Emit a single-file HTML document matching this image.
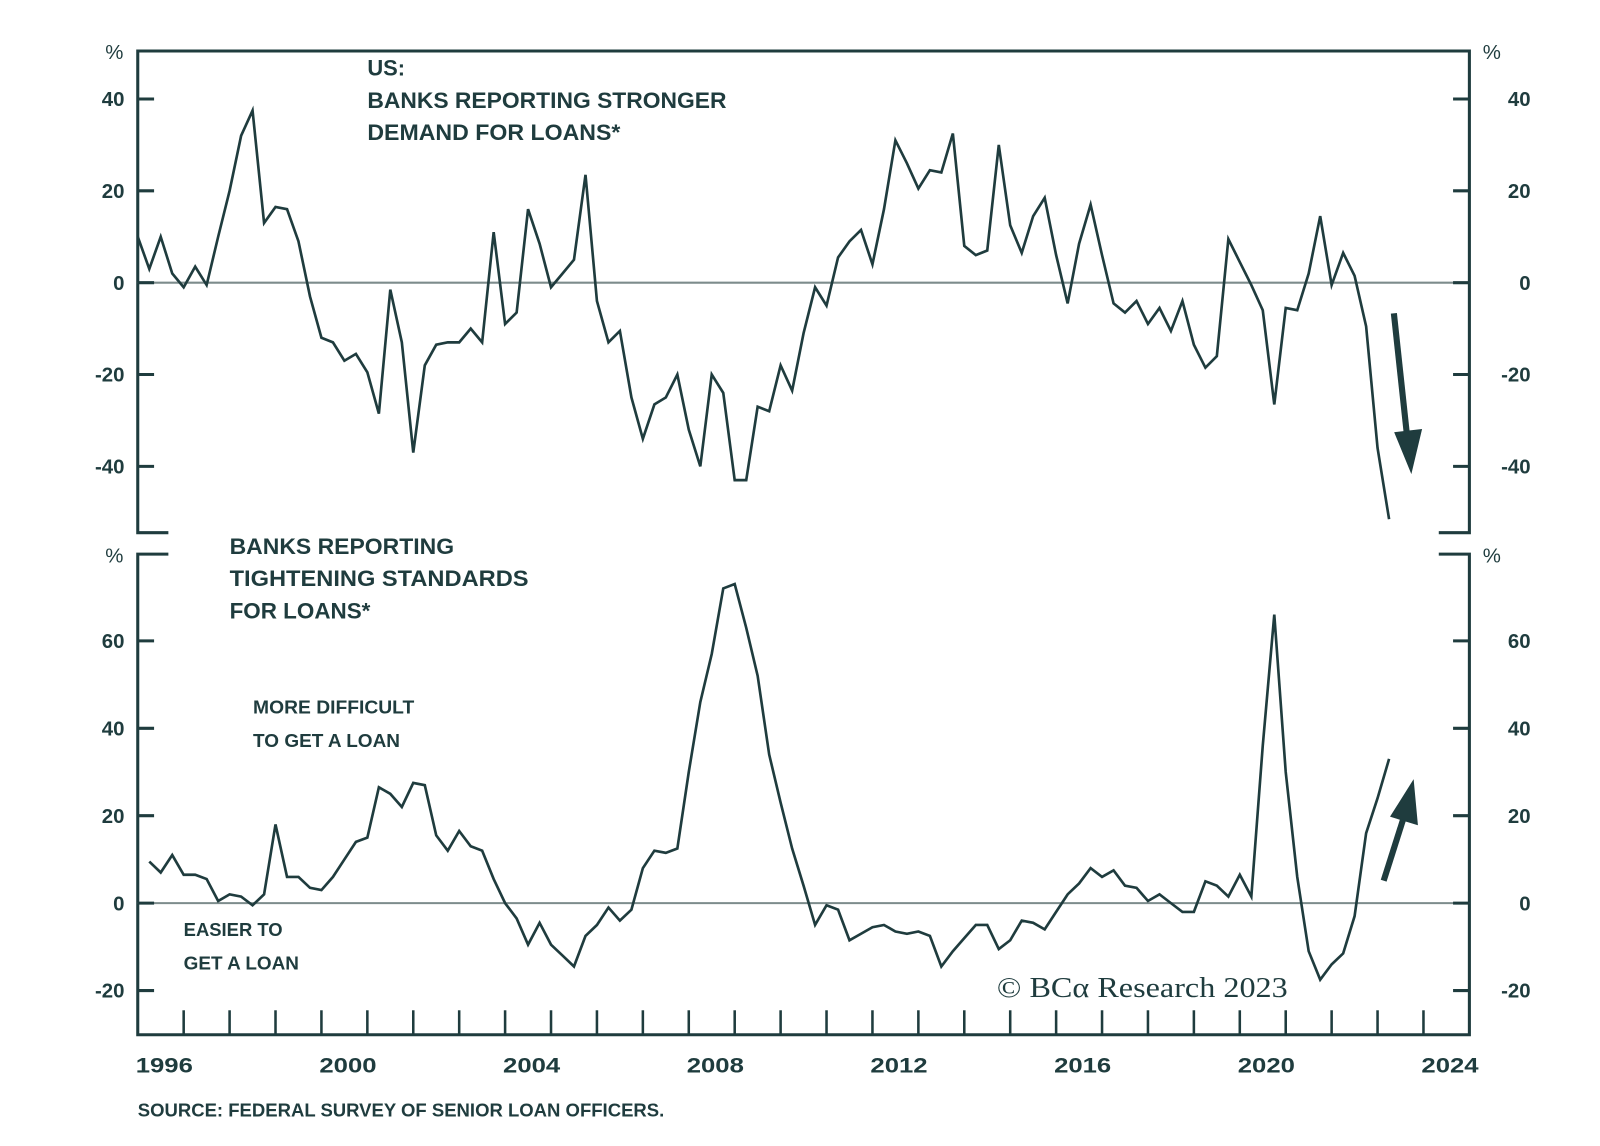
<!DOCTYPE html>
<html><head><meta charset="utf-8">
<style>
html,body{margin:0;padding:0;background:#fff;}
svg{display:block;}
text{font-family:"Liberation Sans",sans-serif;fill:#1f3c3e;font-weight:bold;}
</style></head>
<body>
<svg id="chart" width="1600" height="1146" viewBox="0 0 1568 1123" preserveAspectRatio="none" xmlns="http://www.w3.org/2000/svg">
<g id="frame" stroke="#1f3c3e" stroke-width="3" fill="none">
  <path d="M165,522 H135 V50 H1440 V522 H1410"/>
  <path d="M165,543 H135 V1014 H1440 V543 H1410"/>
</g>
<g id="axes"></g>
<g id="series"></g>
<g>
  <text x="360" y="74" font-size="22" textLength="37" lengthAdjust="spacingAndGlyphs">US:</text>
  <text x="360" y="106" font-size="22" textLength="352" lengthAdjust="spacingAndGlyphs">BANKS REPORTING STRONGER</text>
  <text x="360" y="137" font-size="22" textLength="248" lengthAdjust="spacingAndGlyphs">DEMAND FOR LOANS*</text>
  <text x="225" y="543" font-size="22" textLength="220" lengthAdjust="spacingAndGlyphs">BANKS REPORTING</text>
  <text x="225" y="574" font-size="22" textLength="293" lengthAdjust="spacingAndGlyphs">TIGHTENING STANDARDS</text>
  <text x="225" y="606" font-size="22" textLength="138" lengthAdjust="spacingAndGlyphs">FOR LOANS*</text>
  <text x="248" y="699" font-size="18" textLength="158" lengthAdjust="spacingAndGlyphs">MORE DIFFICULT</text>
  <text x="248" y="732" font-size="18" textLength="144" lengthAdjust="spacingAndGlyphs">TO GET A LOAN</text>
  <text x="180" y="917" font-size="18" textLength="97" lengthAdjust="spacingAndGlyphs">EASIER TO</text>
  <text x="180" y="950" font-size="18" textLength="113" lengthAdjust="spacingAndGlyphs">GET A LOAN</text>
  <text x="977" y="977" font-size="28" textLength="285" lengthAdjust="spacingAndGlyphs" style="font-family:'Liberation Serif',serif;font-weight:normal">© BCα Research 2023</text>
  <text x="135" y="1094" font-size="18" textLength="516" lengthAdjust="spacingAndGlyphs">SOURCE: FEDERAL SURVEY OF SENIOR LOAN OFFICERS.</text>
</g>
<g stroke="#1f3c3e" fill="#1f3c3e">
  <line x1="1366" y1="307" x2="1379" y2="428" stroke-width="6"/>
  <polygon points="1367,424 1393,421 1383,463"/>
  <line x1="1356" y1="863" x2="1376" y2="800" stroke-width="6"/>
  <polygon points="1363,800 1389,808 1385,765"/>
</g>
</svg>
<script>
const topTicks = [40, 20, 0, -20, -40];
const bottomTicks = [60, 40, 20, 0, -20];
const yearLabels = [1996, 2000, 2004, 2008, 2012, 2016, 2020, 2024];
const demandValues = [10,3,10,2,-1,3.5,-0.5,10,20,32,37.5,13,16.5,16,9,-3,-12,-13,-17,-15.5,-19.5,-28.5,-1.5,-13,-37,-18,-13.5,-13,-13,-10,-13,11,-9,-6.5,16,8.5,-1,2,5,23.5,-4,-13,-10.5,-25,-34,-26.5,-25,-20,-32,-40,-20,-24,-43,-43,-27,-28,-18,-23.5,-11,-1,-5,5.5,9,11.5,4,16,31,26,20.5,24.5,24,32.5,8,6,7,30,12.5,6.5,14.5,18.5,6,-4.5,8.5,17,6,-4.5,-6.5,-4,-9,-5.5,-10.5,-4,-13.5,-18.5,-16,9.5,4.5,-0.5,-6,-26.5,-5.5,-6,2,14.5,-0.5,6.5,1.5,-9.5,-36,-51.5];
const tighteningValues = [null,9.5,7,11,6.5,6.5,5.5,0.5,2,1.5,-0.5,2,18,6,6,3.5,3,6,10,14,15,26.5,25,22,27.5,27,15.5,12,16.5,13,12,5.5,0,-3.5,-9.5,-4.5,-9.5,-12,-14.5,-7.5,-5,-1,-4,-1.5,8,12,11.5,12.5,30,46,57,72,73,63,52,34,23,12.5,4,-5,-0.5,-1.5,-8.5,-7,-5.5,-5,-6.5,-7,-6.5,-7.5,-14.5,-11,-8,-5,-5,-10.5,-8.5,-4,-4.5,-6,-2,2,4.5,8,6,7.5,4,3.5,0.5,2,0,-2,-2,5,4,1.5,6.5,1.5,36,66,30,6,-11,-17.5,-14,-11.5,-3,16,24,33];
const startYear = 1996;

const NS = 'http://www.w3.org/2000/svg';
const xOf = y => 135 + (y - 1996) * 45;
const xIdx = i => xOf(startYear + i * 0.25);
const yTop = v => 277 - v * 4.5;
const yBot = v => 885 - v * 4.283;
function mk(tag, attrs, parent, txt) {
  const e = document.createElementNS(NS, tag);
  for (const k in attrs) e.setAttribute(k, attrs[k]);
  if (txt !== undefined) e.textContent = txt;
  parent.appendChild(e);
  return e;
}
const axes = document.getElementById('axes');
const series = document.getElementById('series');

let z1 = mk('line', {x1:135, x2:1440, y1:yTop(0), y2:yTop(0), stroke:'#7d8c8c', 'stroke-width':2}, axes);


let z2 = mk('line', {x1:135, x2:1440, y1:yBot(0), y2:yBot(0), stroke:'#7d8c8c', 'stroke-width':2}, axes);



function yAxis(ticks, yf, prefix) {
  ticks.forEach(t => {
    const y = yf(t);
    const a = mk('line', {x1:135, x2:151, y1:y, y2:y, stroke:'#1f3c3e', 'stroke-width':3}, axes);
    
    
    const b = mk('line', {x1:1424, x2:1440, y1:y, y2:y, stroke:'#1f3c3e', 'stroke-width':3}, axes);
    
    
    const l = mk('text', {x:122, y:y+7, 'font-size':20, 'text-anchor':'end'}, axes, String(t));
    
    
    const r = mk('text', {x:1500, y:y+7, 'font-size':20, 'text-anchor':'end'}, axes, String(t));
    
    
  });
}
yAxis(topTicks, yTop, 'top-y');
yAxis(bottomTicks, yBot, 'bottom-y');
[[112,58,'top-left-unit'],[1462,58,'top-right-unit'],[112,551,'bottom-left-unit'],[1462,551,'bottom-right-unit']].forEach(p => {
  const t = mk('text', {x:p[0], y:p[1], 'font-size':20, 'text-anchor':'middle', style:'font-weight:normal'}, axes, '%');
  
  
});
for (let yr = 1997; yr <= 2024; yr++) {
  const tk = mk('line', {x1:xOf(yr), x2:xOf(yr), y1:990, y2:1014, stroke:'#1f3c3e', 'stroke-width':2.5}, axes);
  
  
}
yearLabels.forEach(yr => {
  const t = mk('text', {x:xOf(yr) - 2, y:1051, 'font-size':21, textLength:56, lengthAdjust:'spacingAndGlyphs'}, axes, String(yr));
  
  
});

function line(vals, yf, name) {
  let d = '';
  let started = false;
  vals.forEach((v, i) => {
    if (v === null) return;
    d += (started ? 'L' : 'M') + xIdx(i).toFixed(1) + ',' + yf(v).toFixed(1);
    started = true;
  });
  const p = mk('path', {d:d, fill:'none', stroke:'#1f3c3e', 'stroke-width':2.6, 'stroke-linejoin':'miter'}, series);
  
  
}
line(demandValues, yTop, 'loan-demand-line');
line(tighteningValues, yBot, 'tightening-standards-line');
</script>
</body></html>
